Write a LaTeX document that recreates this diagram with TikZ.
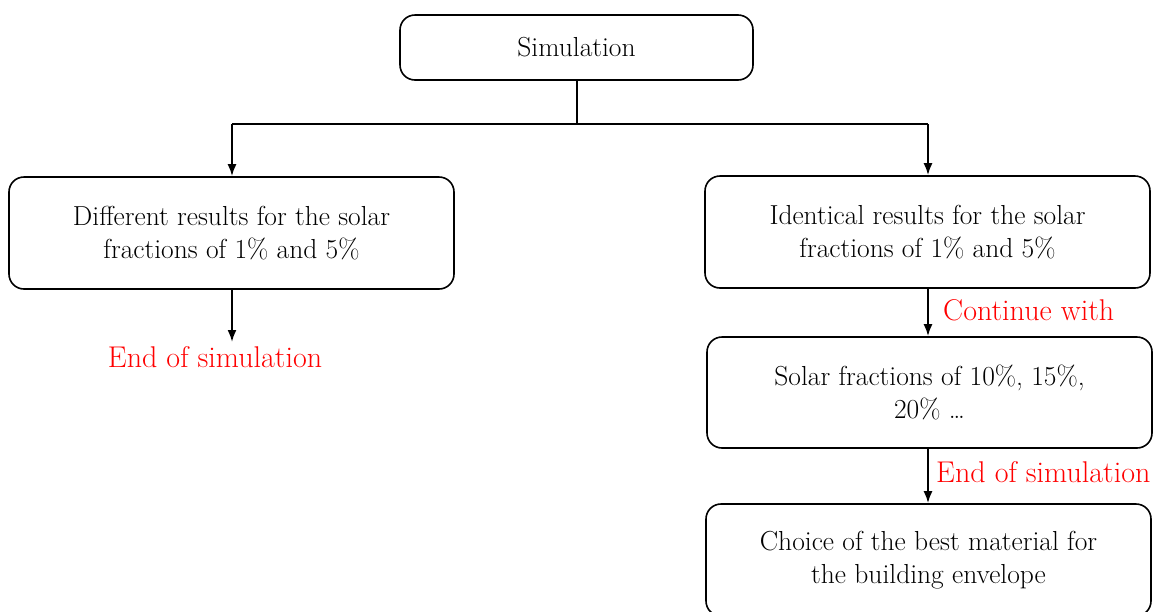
\documentclass[tikz,border=0pt]{standalone}
\usetikzlibrary{arrows.meta}
\definecolor{lblred}{RGB}{255,0,0}
\begin{document}
\begin{tikzpicture}[x=1pt,y=-1pt,
  box/.style={draw=black, line width=1.6pt, rounded corners=15pt, align=center,
    font=\fontsize{27.5}{33}\selectfont, inner sep=0pt},
  conn/.style={draw=black, line width=2pt},
  arr/.style={conn, -{Latex[length=12pt,width=9pt]}},
  lbl/.style={text=lblred, font=\fontsize{30}{33}\selectfont, inner sep=0pt}]
\useasboundingbox (0,0) rectangle (1162,611);
\node[box, minimum width=353pt, minimum height=65pt] (sim) at (576.5,47.5) {Simulation};
\node[box, minimum width=445pt, minimum height=112pt] (diff) at (231.5,233) {Different results for the solar\\fractions of 1\% and 5\%};
\node[box, minimum width=445pt, minimum height=112pt] (ident) at (927.5,232) {Identical results for the solar\\fractions of 1\% and 5\%};
\node[box, minimum width=445pt, minimum height=111pt] (frac) at (929.5,392.5) {Solar fractions of 10\%, 15\%,\\20\% \ldots};
\node[box, minimum width=445pt, minimum height=112pt] (choice) at (928.5,560) {Choice of the best material for\\the building envelope};
\coordinate (hub) at (576.5,124);
\coordinate (hl) at (232,124);
\coordinate (hr) at (928,124);
\node[lbl] (end1) at (215,357) {End of simulation};
\coordinate (end1top) at (232,342);
\node[lbl, anchor=west] (cont) at (943,310) {Continue with};
\node[lbl, anchor=west] (end2) at (936,472) {End of simulation};
\draw[conn] (sim.south) -- (hub);
\draw[conn] (hl) -- (hr);
\draw[arr] (hl) -- (diff.north -| hl);
\draw[arr] (hr) -- (ident.north -| hr);
\draw[arr] (diff.south -| hl) -- (end1top);
\draw[arr] (ident.south -| hr) -- (frac.north -| hr);
\draw[arr] (frac.south -| hr) -- (choice.north -| hr);
\end{tikzpicture}
\end{document}
